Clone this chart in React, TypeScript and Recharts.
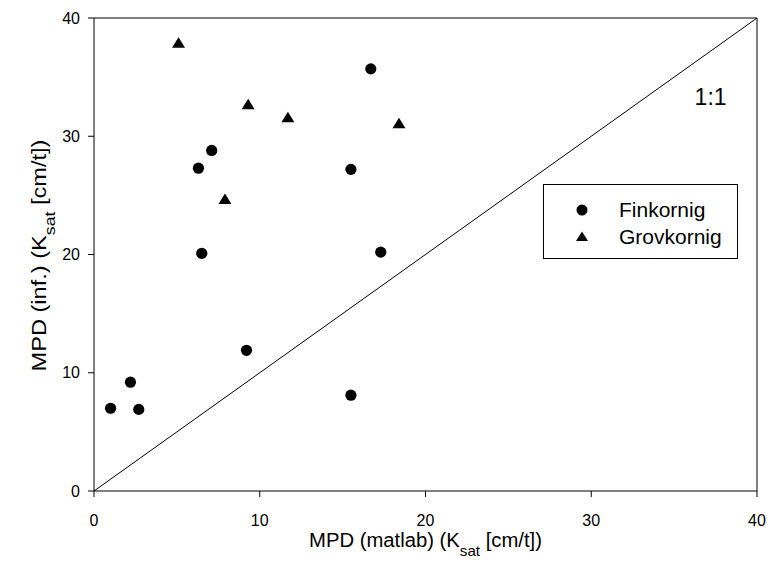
import React from "react";
import {
  ReferenceDot,
  ReferenceLine,
  Scatter,
  ScatterChart,
  XAxis,
  YAxis,
} from "recharts";

const seriesNames = ["Finkornig", "Grovkornig"];

const finkornigX = [1.0, 2.2, 2.7, 7.1, 6.3, 6.5, 9.2, 15.5, 15.5, 16.7, 17.3];
const finkornigY = [7.0, 9.2, 6.9, 28.8, 27.3, 20.1, 11.9, 27.2, 8.1, 35.7, 20.2];

const grovkornigX = [5.1, 9.3, 11.7, 18.4, 7.9];
const grovkornigY = [37.9, 32.7, 31.6, 31.1, 24.7];

const axisTicks = [0, 10, 20, 30, 40];

const finkornig = finkornigX.map((x, i) => ({ x, y: finkornigY[i] }));
const grovkornig = grovkornigX.map((x, i) => ({ x, y: grovkornigY[i] }));

const FONT = "'Liberation Sans', Arial, sans-serif";

function Dot({ cx, cy }: any) {
  return <circle cx={cx} cy={cy} r={5.6} fill="#000" />;
}

function Tri({ cx, cy }: any) {
  return (
    <polygon
      points={`${cx},${cy - 5.5} ${cx + 6.5},${cy + 5} ${cx - 6.5},${cy + 5}`}
      fill="#000"
    />
  );
}

function XLabel({ viewBox }: any) {
  const cx = viewBox.x + viewBox.width / 2;
  return (
    <text
      x={cx}
      y={viewBox.y + 56}
      textAnchor="middle"
      fontFamily={FONT}
      fontSize={20}
      fill="#000"
      textLength={233}
      lengthAdjust="spacingAndGlyphs"
    >
      MPD (matlab) (K
      <tspan baselineShift="sub" fontSize={15}>sat</tspan>
      <tspan> [cm/t])</tspan>
    </text>
  );
}

function YLabel({ viewBox }: any) {
  const cy = viewBox.y + viewBox.height / 2 + 1;
  const x = 46;
  return (
    <text
      x={x}
      y={cy}
      textAnchor="middle"
      fontFamily={FONT}
      fontSize={20}
      fill="#000"
      textLength={232}
      lengthAdjust="spacingAndGlyphs"
      transform={`rotate(-90 ${x} ${cy})`}
    >
      MPD (inf.) (K
      <tspan baselineShift="sub" fontSize={15}>sat</tspan>
      <tspan> [cm/t])</tspan>
    </text>
  );
}

function LegendBox() {
  return (
    <div
      style={{
        position: "absolute",
        left: 543,
        top: 184,
        border: "1px solid #000",
        width: 195,
        height: 75,
        boxSizing: "border-box",
        background: "#fff",
        fontFamily: FONT,
        fontSize: 21,
        color: "#000",
        paddingTop: 11,
      }}
    >
      {seriesNames.map((name, i) => (
        <div key={name} style={{ display: "flex", alignItems: "center", height: 27 }}>
          <svg width={75} height={20} style={{ flex: "none" }}>
            {i === 0 ? (
              <circle cx={38} cy={10} r={5.5} fill="#000" />
            ) : (
              <polygon points="38,4.5 44,14 32,14" fill="#000" />
            )}
          </svg>
          <span>{name}</span>
        </div>
      ))}
    </div>
  );
}

export default function App() {
  return (
    <div style={{ position: "absolute", left: 0, top: 0, width: 767, height: 576, background: "#fff" }}>
      <ScatterChart
        width={767}
        height={576}
        margin={{ top: 18, right: 10, bottom: 0, left: 0 }}
      >
        <XAxis
          type="number"
          dataKey="x"
          domain={[0, 40]}
          ticks={axisTicks}
          height={85}
          stroke="#000"
          tickSize={6}
          tickMargin={18}
          tick={{ fill: "#000", fontSize: 16, fontFamily: FONT }}
          label={<XLabel />}
          allowDataOverflow
        />
        <YAxis
          type="number"
          dataKey="y"
          domain={[0, 40]}
          ticks={axisTicks}
          width={94}
          stroke="#000"
          tickSize={6}
          tickMargin={8}
          tick={{ fill: "#000", fontSize: 16, fontFamily: FONT }}
          label={<YLabel />}
          allowDataOverflow
        />
        <ReferenceLine y={40} stroke="#000" strokeWidth={1} />
        <ReferenceLine x={40} stroke="#000" strokeWidth={1} />
        <ReferenceLine
          segment={[
            { x: 0, y: 0 },
            { x: 40, y: 40 },
          ]}
          stroke="#000"
          strokeWidth={1}
        />
        <ReferenceDot
          x={37.2}
          y={33.3}
          r={0}
          stroke="none"
          label={{ value: "1:1", position: "center", fontSize: 23, fontFamily: FONT, fill: "#000" }}
        />
        <Scatter
          name={seriesNames[0]}
          data={finkornig}
          fill="#000"
          shape={<Dot />}
          isAnimationActive={false}
        />
        <Scatter
          name={seriesNames[1]}
          data={grovkornig}
          fill="#000"
          shape={<Tri />}
          isAnimationActive={false}
        />
      </ScatterChart>
      <LegendBox />
    </div>
  );
}
